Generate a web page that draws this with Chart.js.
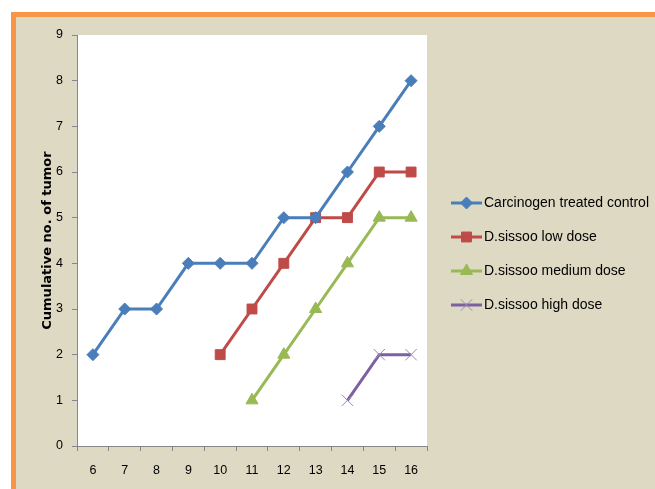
<!DOCTYPE html>
<html>
<head>
<meta charset="utf-8">
<script src="https://cdn.jsdelivr.net/npm/chart.js@4/dist/chart.umd.min.js"></script>
<style>
  html, body { margin: 0; padding: 0; background: #ffffff; overflow: hidden; }
  #frame { position: absolute; left: 11px; top: 12px; width: 660px; height: 490px;
           background: #ddd9c3; border-top: 5px solid #f79646; border-left: 5px solid #f79646; }
  #wrap { position: absolute; left: 0; top: 0; width: 655px; height: 489px; }
</style>
</head>
<body>
<div id="frame"></div>
<div id="wrap"><canvas id="c" width="655" height="489"></canvas></div>
<script>
const categories = ['6','7','8','9','10','11','12','13','14','15','16'];
const controlValues = [2, 3, 3, 4, 4, 4, 5, 5, 6, 7, 8];
const lowDoseValues = [null, null, null, null, 2, 3, 4, 5, 5, 6, 6];
const mediumDoseValues = [null, null, null, null, null, 1, 2, 3, 4, 5, 5];
const highDoseValues = [null, null, null, null, null, null, null, null, 1, 2, 2];
const seriesNames = ['Carcinogen treated control', 'D.sissoo low dose', 'D.sissoo medium dose', 'D.sissoo high dose'];
const yTicks = [0, 1, 2, 3, 4, 5, 6, 7, 8, 9];

const FONT = "'Liberation Sans', Arial, sans-serif";

const plotBg = {
  id: 'plotBg',
  beforeDraw(chart) {
    const a = chart.chartArea, ctx = chart.ctx;
    ctx.save();
    ctx.fillStyle = '#ffffff';
    ctx.fillRect(a.left, a.top, a.right - a.left, a.bottom - a.top);
    ctx.restore();
  }
};

const sideLegend = {
  id: 'sideLegend',
  afterDraw(chart) {
    const ctx = chart.ctx;
    ctx.save();
    chart.data.datasets.forEach((ds, i) => {
      const y = 203 + i * 34;
      ctx.strokeStyle = ds.borderColor;
      ctx.lineWidth = 3;
      ctx.beginPath();
      ctx.moveTo(451, y);
      ctx.lineTo(482, y);
      ctx.stroke();
      ctx.fillStyle = ds.pointBackgroundColor;
      ctx.strokeStyle = ds.pointBorderColor;
      ctx.lineWidth = ds.pointBorderWidth || 1;
      Chart.helpers.drawPoint(ctx, {
        pointStyle: ds.pointStyle,
        radius: ds.pointRadius,
        borderWidth: ds.pointBorderWidth || 1
      }, 466.5, y);
      ctx.fillStyle = '#000000';
      ctx.font = "14px " + FONT;
      ctx.textAlign = 'left';
      ctx.textBaseline = 'middle';
      ctx.fillText(ds.label, 484, y);
    });
    ctx.restore();
  }
};

function mk(label, data, color, style, radius, extra) {
  return Object.assign({
    label, data,
    borderColor: color,
    backgroundColor: color,
    pointBackgroundColor: color,
    pointBorderColor: color,
    borderWidth: 3,
    pointStyle: style,
    pointRadius: radius,
    pointHoverRadius: radius,
    pointBorderWidth: 1,
    tension: 0,
    spanGaps: false
  }, extra || {});
}

new Chart(document.getElementById('c'), {
  type: 'line',
  data: {
    labels: categories,
    datasets: [
      mk(seriesNames[0], controlValues, '#4a7ebb', 'rectRot', 6),
      mk(seriesNames[1], lowDoseValues, '#be4b48', 'rect', 7),
      mk(seriesNames[2], mediumDoseValues, '#98b954', 'triangle', 7),
      mk(seriesNames[3], highDoseValues, '#7d60a0', 'crossRot', 8, { pointBorderColor: '#9a86bd', pointBorderWidth: 1 })
    ]
  },
  options: {
    responsive: false,
    animation: false,
    devicePixelRatio: 1,
    layout: { padding: { left: 0, top: 35, right: 228, bottom: 0 } },
    plugins: { legend: { display: false }, tooltip: { enabled: false } },
    scales: {
      x: {
        type: 'category',
        offset: true,
        afterFit(s) { s.height = 43; },
        grid: { offset: true, drawOnChartArea: false, drawTicks: true, tickLength: 5, color: '#868686' },
        border: { color: '#868686', width: 1 },
        ticks: { color: '#000', font: { family: FONT, size: 12.5 }, padding: 12, maxRotation: 0, autoSkip: false }
      },
      y: {
        min: 0, max: 9,
        afterFit(s) { s.width = 77; },
        afterBuildTicks(s) { s.ticks = yTicks.map(v => ({ value: v })); },
        grid: { drawOnChartArea: false, drawTicks: true, tickLength: 5, color: '#868686' },
        border: { color: '#868686', width: 1 },
        ticks: { color: '#000', font: { family: FONT, size: 12.5 }, padding: 9 },
        title: {
          display: true,
          text: 'Cumulative no. of tumor',
          color: '#000',
          font: { family: "'DejaVu Sans', Verdana, sans-serif", size: 13, weight: 'bold' },
          padding: { top: 40, bottom: 0 }
        }
      }
    }
  },
  plugins: [plotBg, sideLegend]
});
</script>
</body>
</html>
